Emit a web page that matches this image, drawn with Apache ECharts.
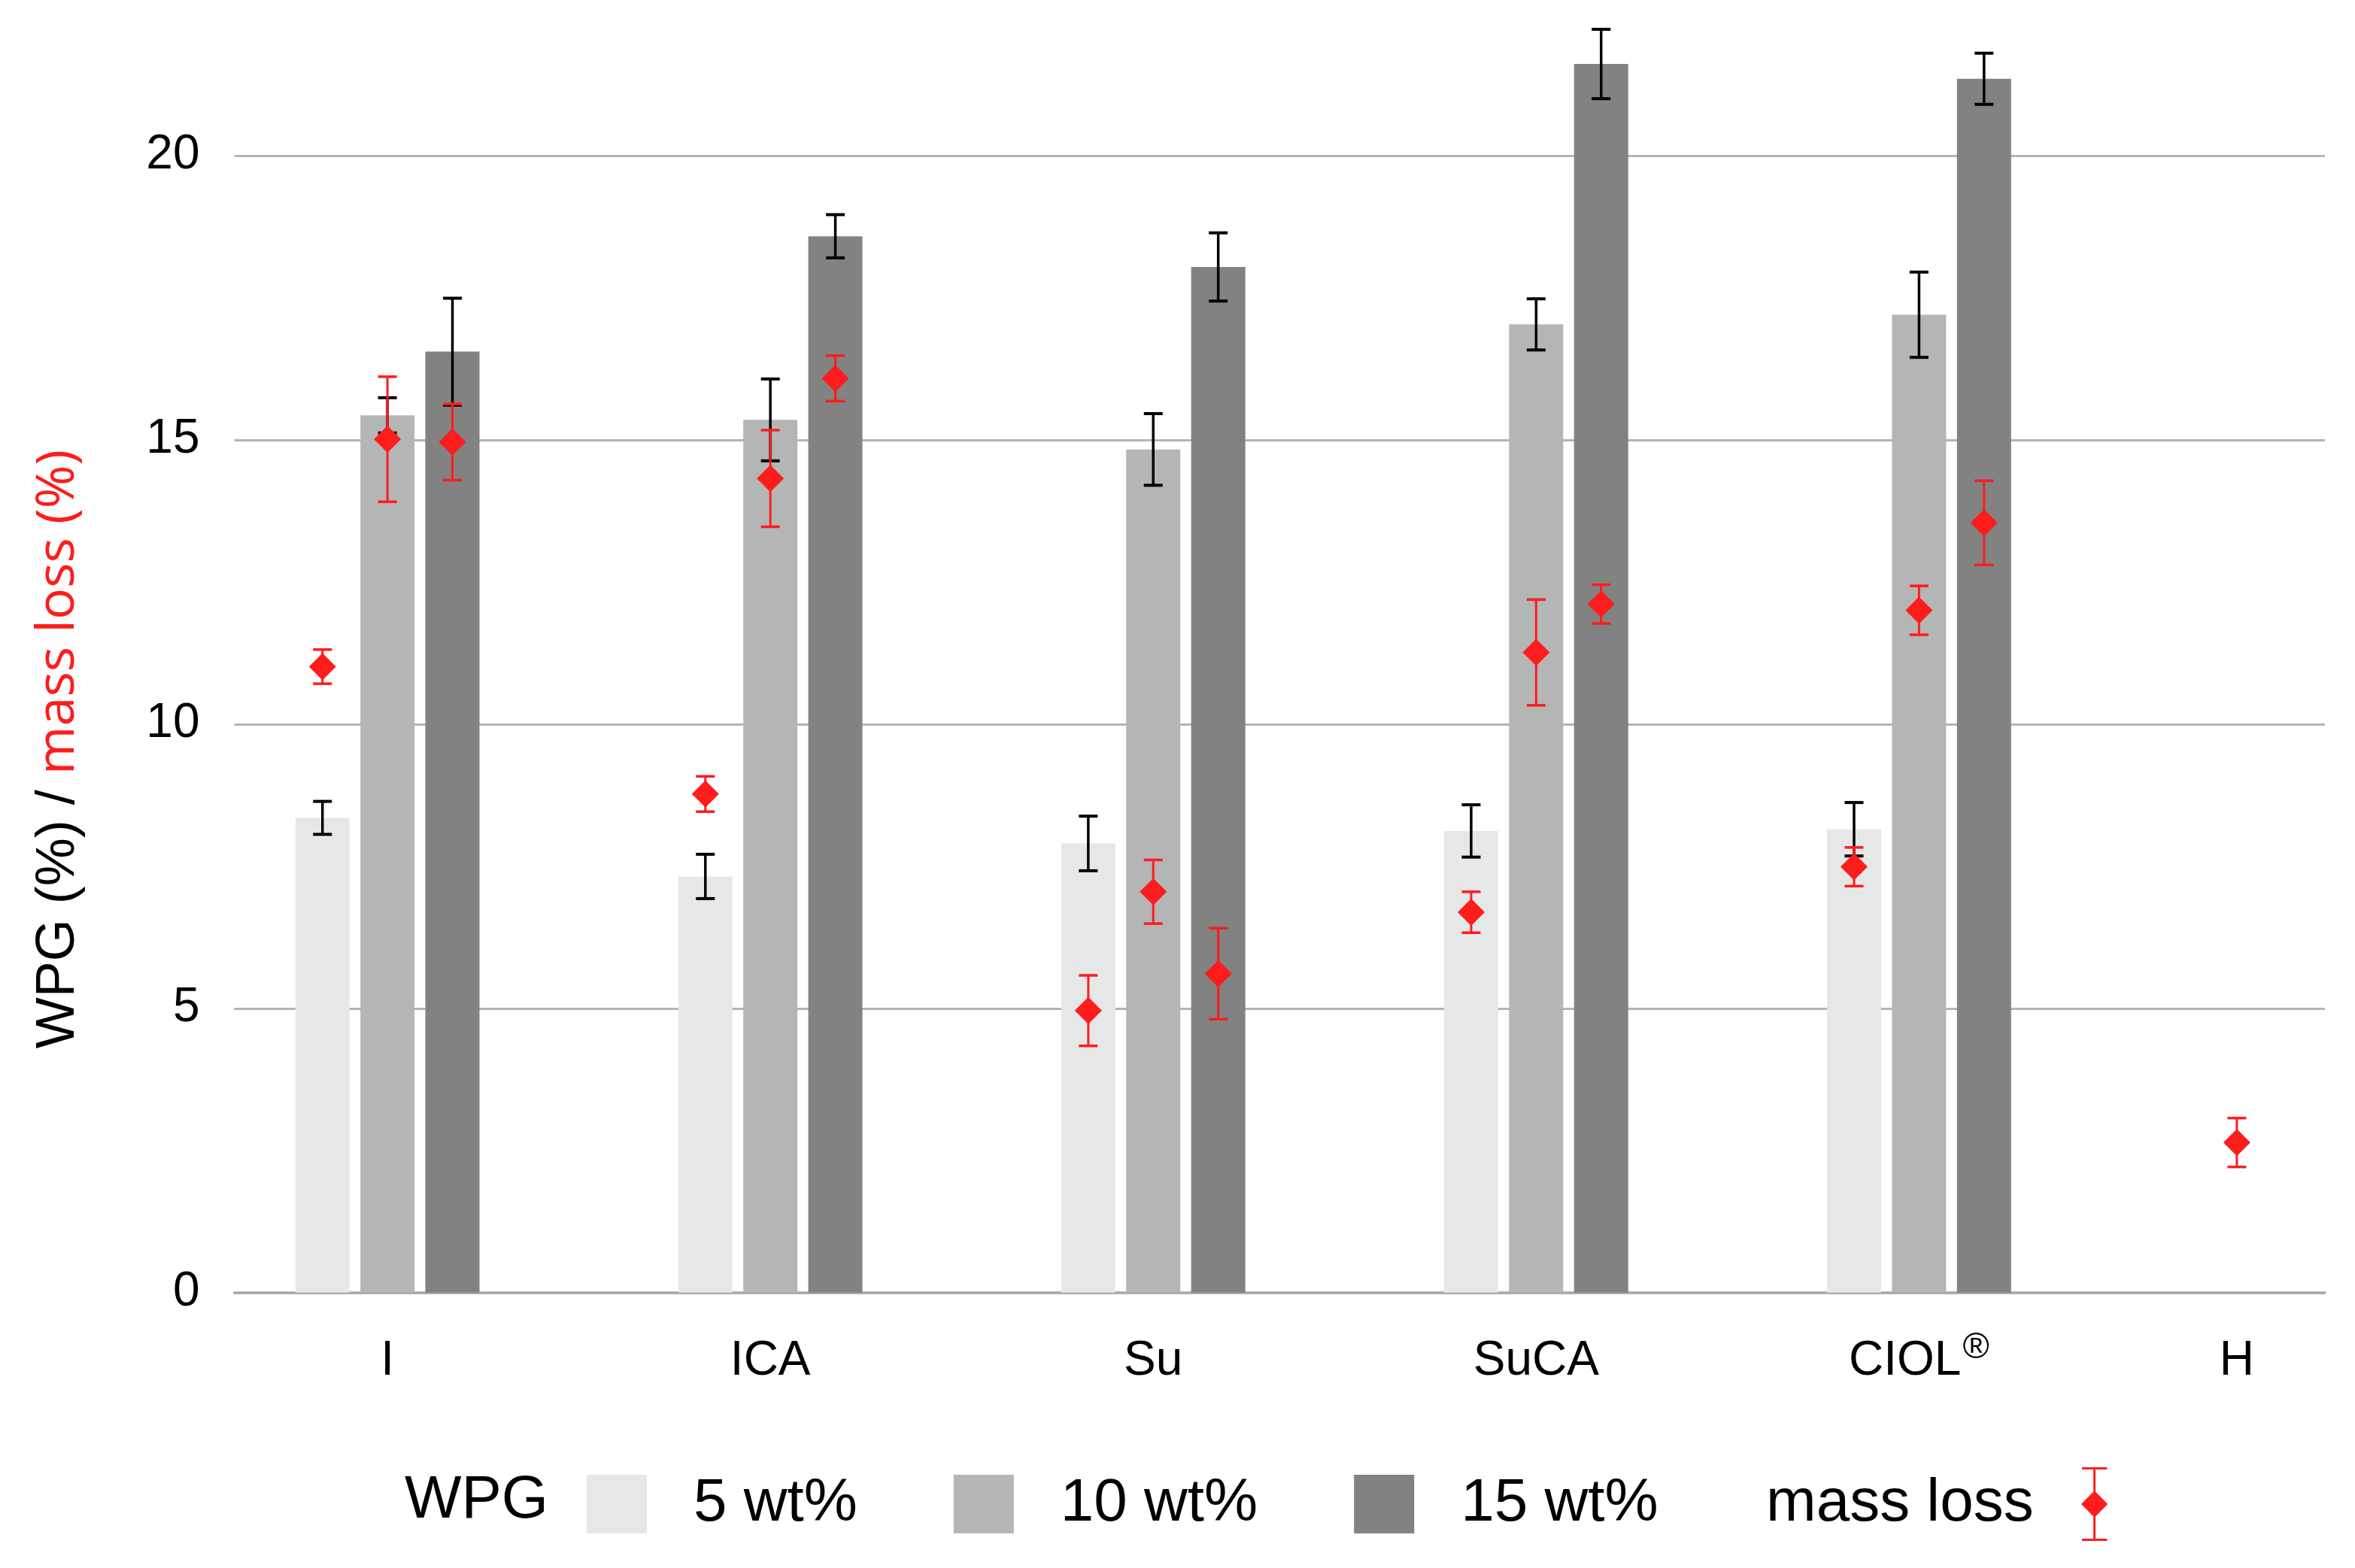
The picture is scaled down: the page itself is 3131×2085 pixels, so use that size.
<!DOCTYPE html>
<html>
<head>
<meta charset="utf-8">
<script src="https://cdn.jsdelivr.net/npm/echarts@6/dist/echarts.min.js"></script>
<style>
  html, body { margin: 0; padding: 0; background: #ffffff; }
  #chart { width: 3131px; height: 2085px; }
</style>
</head>
<body>
<div id="chart"></div>
<script>
// ---------------- data ----------------
const categories = ['I', 'ICA', 'Su', 'SuCA', 'CIOL®', 'H'];
const categoryX = [0, 1, 2, 3, 4, 4.83];
const wpgLevels = ['5 wt%', '10 wt%', '15 wt%'];

const wpg5 = [8.35, 7.32, 7.90, 8.12, 8.15];
const wpg5Err = [0.29, 0.39, 0.48, 0.46, 0.47];
const wpg10 = [15.43, 15.35, 14.83, 17.03, 17.20];
const wpg10Err = [0.31, 0.72, 0.63, 0.45, 0.75];
const wpg15 = [16.55, 18.58, 18.04, 21.61, 21.35];
const wpg15Err = [0.94, 0.38, 0.60, 0.61, 0.45];

const massLoss5 = [11.01, 8.77, 4.96, 6.69, 7.49];
const massLoss5Err = [0.30, 0.31, 0.62, 0.36, 0.34];
const massLoss10 = [15.01, 14.32, 7.05, 11.26, 12.00];
const massLoss10Err = [1.10, 0.85, 0.56, 0.93, 0.43];
const massLoss15 = [14.96, 16.08, 5.61, 12.11, 13.54];
const massLoss15Err = [0.67, 0.40, 0.80, 0.34, 0.74];
const massLossH = [2.64];
const massLossHErr = [0.43];

const yTicks = [0, 5, 10, 15, 20];

// ---------------- style ----------------
const BAR_W = 72;
const BAR_GAP = 0.2;
const STEP = BAR_W * (1 + BAR_GAP);
const barColors = ['#e6e8e7', '#b4b6b5', '#818281'];
const RED = '#fe1c1c';
const FONT = 'Liberation Sans, Arial, sans-serif';

const wpgValues = [wpg5, wpg10, wpg15];
const wpgErrs = [wpg5Err, wpg10Err, wpg15Err];
const mlValues = [massLoss5, massLoss10, massLoss15];
const mlErrs = [massLoss5Err, massLoss10Err, massLoss15Err];

// bar series
const barSeries = wpgLevels.map((name, k) => ({
  name: name,
  type: 'bar',
  barWidth: BAR_W,
  barGap: (BAR_GAP * 100) + '%',
  itemStyle: { color: barColors[k] },
  z: 2,
  data: wpgValues[k].map((v, i) => [categoryX[i], v])
}));

// error bar data for WPG bars: [x, value, err, slot]
const wpgErrData = [];
wpgLevels.forEach((n, k) => {
  wpgValues[k].forEach((v, i) => wpgErrData.push([categoryX[i], v, wpgErrs[k][i], k]));
});

// mass loss data: [x, value, err, slot]
const mlData = [];
wpgLevels.forEach((n, k) => {
  mlValues[k].forEach((v, i) => mlData.push([categoryX[i], v, mlErrs[k][i], k]));
});
massLossH.forEach((v, j) => mlData.push([categoryX[5], v, massLossHErr[j], 1]));

function errRender(color, width, withDiamond) {
  return function (params, api) {
    const x = api.value(0), y = api.value(1), e = api.value(2), slot = api.value(3);
    const c = api.coord([x, y]);
    const hi = api.coord([x, y + e]);
    const lo = api.coord([x, y - e]);
    const px = c[0] + (slot - 1) * STEP;
    const cap = 12.5;
    const st = { stroke: color, lineWidth: width, fill: null };
    const children = [
      { type: 'line', shape: { x1: px, y1: hi[1], x2: px, y2: lo[1] }, style: st },
      { type: 'line', shape: { x1: px - cap, y1: hi[1], x2: px + cap, y2: hi[1] }, style: { stroke: color, lineWidth: width + 0.5 } },
      { type: 'line', shape: { x1: px - cap, y1: lo[1], x2: px + cap, y2: lo[1] }, style: { stroke: color, lineWidth: width + 0.5 } }
    ];
    if (withDiamond) {
      const d = 18;
      children.push({
        type: 'polygon',
        shape: { points: [[px, c[1] - d], [px + d, c[1]], [px, c[1] + d], [px - d, c[1]]] },
        style: { fill: color, stroke: null }
      });
    }
    return { type: 'group', children: children };
  };
}

const chart = echarts.init(document.getElementById('chart'), null, { renderer: 'canvas' });

const option = {
  backgroundColor: '#ffffff',
  animation: false,
  grid: { left: 311.5, right: 40, top: 17.8, bottom: 366.2, containLabel: false },
  xAxis: {
    type: 'value',
    min: -0.4,
    max: 5.06,
    splitLine: { show: false },
    axisTick: { show: false },
    axisLine: { show: true, onZero: true, lineStyle: { color: '#a9a9a9', width: 3.5 } },
    axisLabel: {
      customValues: categoryX,
      margin: 50,
      color: '#000',
      fontFamily: FONT,
      fontSize: 64,
      formatter: function (v) {
        const i = categoryX.findIndex(c => Math.abs(c - v) < 1e-6);
        if (i < 0) return '';
        const name = categories[i];
        if (name.endsWith('®')) return '{n|' + name.slice(0, -1) + '}{sup|®}';
        return '{n|' + name + '}';
      },
      rich: {
        n: { fontSize: 64, fontFamily: FONT, color: '#000', lineHeight: 74, verticalAlign: 'bottom' },
        sup: { fontSize: 48, fontFamily: FONT, color: '#000', lineHeight: 40, verticalAlign: 'top', padding: [0, 0, 0, 2] }
      }
    }
  },
  yAxis: {
    type: 'value',
    min: 0,
    max: 22.5,
    interval: 5,
    axisLine: { show: false },
    axisTick: { show: false },
    axisLabel: {
      margin: 46,
      color: '#000',
      fontFamily: FONT,
      fontSize: 64,
      showMaxLabel: false,
      formatter: function (v) { return yTicks.indexOf(v) >= 0 ? String(v) : ''; }
    },
    splitLine: { show: true, showMaxLine: false, lineStyle: { color: '#b4b4b4', width: 3 } }
  },
  legend: [
    {
      data: wpgLevels,
      left: 775,
      top: 1955,
      orient: 'horizontal',
      icon: 'rect',
      itemWidth: 80,
      itemHeight: 78,
      itemGap: 128,
      selectedMode: false,
      textStyle: { fontSize: 80, fontFamily: FONT, color: '#000', padding: [0, 0, 0, 57] }
    },
    {
      data: [{ name: 'mass loss', icon: 'path://M1,0H35V3H1Z M16.5,0H19.5V100H16.5Z M1,97H35V100H1Z M18,32L36,50L18,68L0,50Z' }],
      left: 2343,
      top: 1946,
      align: 'right',
      itemWidth: 36,
      itemHeight: 98,
      selectedMode: false,
      textStyle: { fontSize: 80, fontFamily: FONT, color: '#000', padding: [0, 58, 0, 0] }
    }
  ],
  graphic: [
    {
      type: 'text',
      x: 78,
      y: 996,
      rotation: Math.PI / 2,
      style: {
        text: '{a|WPG (%) / }{b|mass loss (%)}',
        rich: {
          a: { fontSize: 72, fontFamily: FONT, fill: '#000', color: '#000' },
          b: { fontSize: 70, fontFamily: 'Open Sans, sans-serif', fill: RED, color: RED }
        },
        align: 'center',
        verticalAlign: 'middle',
        textAlign: 'center',
        textVerticalAlign: 'middle'
      }
    },
    {
      type: 'text',
      x: 538,
      y: 1996,
      style: {
        text: 'WPG',
        fontSize: 80,
        fontFamily: FONT,
        fill: '#000',
        align: 'left',
        verticalAlign: 'middle',
        textAlign: 'left',
        textVerticalAlign: 'middle'
      }
    }
  ],
  series: barSeries.concat([
    {
      name: 'wpg error',
      type: 'custom',
      renderItem: errRender('#000000', 3.5, false),
      encode: { x: 0, y: 1 },
      z: 3,
      data: wpgErrData
    },
    {
      name: 'mass loss',
      type: 'custom',
      renderItem: errRender(RED, 3, true),
      encode: { x: 0, y: 1 },
      itemStyle: { color: RED },
      z: 4,
      data: mlData
    }
  ])
};

chart.setOption(option);
</script>
</body>
</html>
